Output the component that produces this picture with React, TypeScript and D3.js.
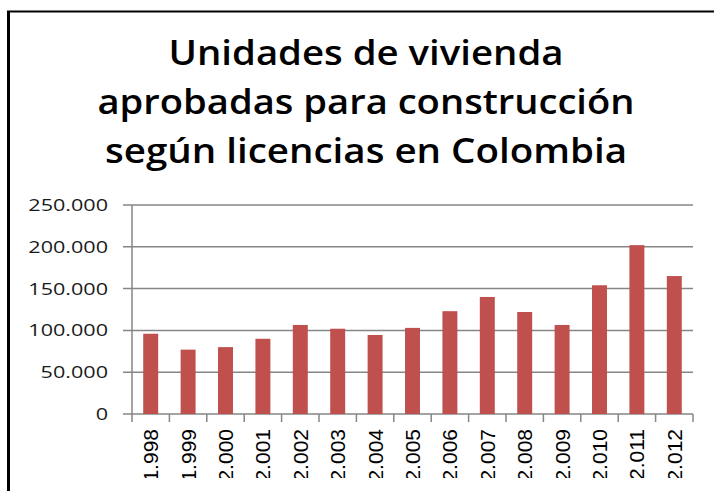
import React from "react";
import * as d3 from "d3";

const titleLines = [
  "Unidades de vivienda",
  "aprobadas para construcción",
  "según licencias en Colombia",
];
const years = [
  "1.998", "1.999", "2.000", "2.001", "2.002", "2.003", "2.004", "2.005",
  "2.006", "2.007", "2.008", "2.009", "2.010", "2.011", "2.012",
];
const values = [
  96000, 77000, 80000, 90000, 106500, 102000, 94500, 103000,
  123000, 140000, 122000, 106500, 154000, 202000, 165000,
];
const yTicks = [0, 50000, 100000, 150000, 200000, 250000];

const W = 714;
const H = 491;
const plotLeft = 132;
const plotRight = 693;
const plotTop = 205;
const plotBottom = 414;

const fmt = (v: number) => {
  if (v === 0) return "0";
  const s = d3.format(",")(v);
  return s.replace(/,/g, ".");
};

export default function App() {
  const x = d3
    .scaleBand<string>()
    .domain(years)
    .range([plotLeft, plotRight])
    .paddingInner(0)
    .paddingOuter(0);
  const y = d3.scaleLinear().domain([0, 250000]).range([plotBottom, plotTop]);
  const barW = x.bandwidth() * 0.4;
  const tickXs = [...years.map((c) => x(c) as number), plotRight];
  const titleWidths = [395, 537, 522];
  const titleBaselines = [65, 114, 163];
  const titleCx = 366;

  return (
    <svg
      width={W}
      height={H}
      style={{ position: "absolute", left: 0, top: 0, background: "#fff" }}
    >
      <defs>
        <clipPath id="lblclip">
          <rect x={0} y={0} width={W} height={478} />
        </clipPath>
      </defs>
      <rect x={0} y={0} width={W} height={H} fill="#fff" />
      {/* frame */}
      <line x1={8.5} y1={11} x2={8.5} y2={H} stroke="#000" strokeWidth={3} />
      <line x1={7} y1={11.5} x2={W} y2={11.5} stroke="#000" strokeWidth={2} />

      {/* title */}
      {titleLines.map((t, i) => (
        <text
          key={t}
          x={titleCx}
          y={titleBaselines[i]}
          textAnchor="middle"
          fontFamily="'Open Sans', Lato, sans-serif"
          fontWeight={600}
          fontSize={35}
          textLength={titleWidths[i]}
          lengthAdjust="spacingAndGlyphs"
          fill="#000"
        >
          {t}
        </text>
      ))}

      {/* gridlines */}
      {yTicks.map((t) => (
        <line
          key={"g" + t}
          x1={plotLeft - 9}
          x2={plotRight}
          y1={y(t)}
          y2={y(t)}
          stroke="#868686"
          strokeWidth={1.5}
        />
      ))}
      {/* y axis */}
      <line
        x1={plotLeft}
        x2={plotLeft}
        y1={plotTop}
        y2={plotBottom}
        stroke="#868686"
        strokeWidth={1.5}
      />
      {/* y labels */}
      {yTicks.map((t) => (
        <text
          key={"yl" + t}
          transform={`translate(108,${y(t) + 6}) scale(1.27,1)`}
          textAnchor="end"
          fontFamily="'Open Sans', sans-serif"
          fontSize={17}
          fill="#1a1a1a"
        >
          {fmt(t)}
        </text>
      ))}

      {/* bars */}
      {years.map((c, i) => (
        <rect
          key={"b" + c}
          x={(x(c) as number) + x.bandwidth() / 2 - barW / 2}
          y={y(values[i])}
          width={barW}
          height={plotBottom - y(values[i])}
          fill="#C0504D"
        />
      ))}

      {/* x ticks */}
      {tickXs.map((tx, i) => (
        <line
          key={"xt" + i}
          x1={tx}
          x2={tx}
          y1={plotBottom}
          y2={plotBottom + 8}
          stroke="#868686"
          strokeWidth={1.5}
        />
      ))}

      {/* x labels */}
      <g clipPath="url(#lblclip)">
        {years.map((c) => (
          <text
            key={"xl" + c}
            transform={`translate(${(x(c) as number) + x.bandwidth() / 2 + 7.5},429) rotate(-90)`}
            textAnchor="end"
            fontFamily="'Liberation Sans', Arial, sans-serif"
            fontSize={21}
            fill="#000"
          >
            {c}
          </text>
        ))}
      </g>
    </svg>
  );
}
